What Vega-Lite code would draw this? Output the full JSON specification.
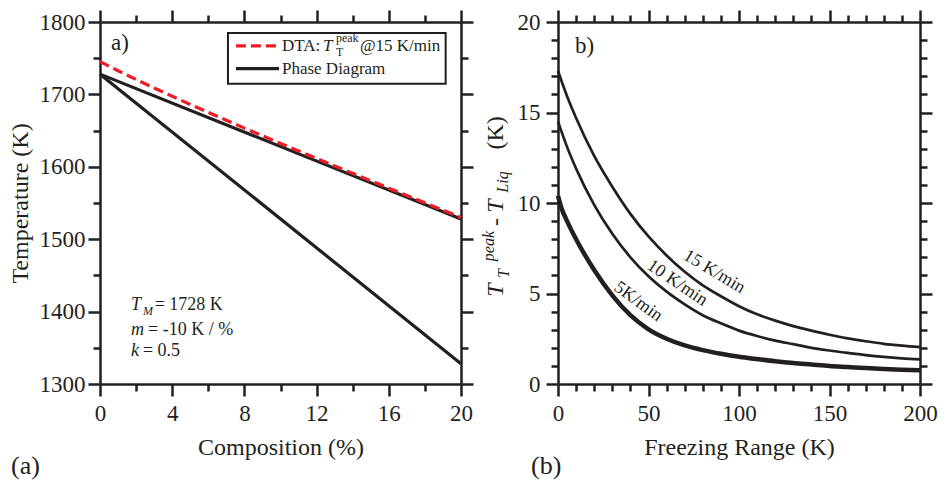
{
  "$schema": "https://vega.github.io/schema/vega-lite/v6.json",
  "background": "white",
  "padding": {"left": 8, "top": 8, "right": 5, "bottom": 5},
  "bounds": "flush",
  "spacing": 97,
  "config": {
    "view": {"stroke": null},
    "font": "Liberation Serif",
    "axis": {
      "grid": false,
      "domainColor": "#231f20",
      "domainWidth": 2.5,
      "tickColor": "#231f20",
      "tickWidth": 2.5,
      "labelFont": "Liberation Serif",
      "labelFontSize": 23,
      "labelColor": "#231f20",
      "labelFlush": false,
      "labelOverlap": false,
      "format": "d",
      "titleFont": "Liberation Serif",
      "titleFontSize": 24,
      "titleFontWeight": "normal",
      "titleColor": "#231f20"
    },
    "text": {"font": "Liberation Serif", "color": "#231f20"}
  },
  "datasets": {
    "note": [{}],
    "liquidus": [
      {"composition": 0, "temperature": 1728},
      {"composition": 20, "temperature": 1528}
    ],
    "solidus": [
      {"composition": 0, "temperature": 1728},
      {"composition": 20, "temperature": 1328}
    ],
    "dta15": [
      {"composition": 0, "temperature": 1745.3},
      {"composition": 0.5, "temperature": 1738.9},
      {"composition": 1, "temperature": 1732.7},
      {"composition": 2, "temperature": 1720.6},
      {"composition": 3, "temperature": 1708.9},
      {"composition": 4, "temperature": 1697.4},
      {"composition": 5, "temperature": 1686.15},
      {"composition": 6, "temperature": 1675.1},
      {"composition": 7, "temperature": 1664.2},
      {"composition": 8, "temperature": 1653.45},
      {"composition": 9, "temperature": 1642.85},
      {"composition": 10, "temperature": 1632.3},
      {"composition": 11, "temperature": 1621.85},
      {"composition": 12, "temperature": 1611.5},
      {"composition": 13, "temperature": 1601.2},
      {"composition": 14, "temperature": 1590.95},
      {"composition": 15, "temperature": 1580.72},
      {"composition": 16, "temperature": 1570.52},
      {"composition": 17, "temperature": 1560.36},
      {"composition": 18, "temperature": 1550.22},
      {"composition": 19, "temperature": 1540.12},
      {"composition": 20, "temperature": 1530.04}
    ],
    "rate15": [
      {"range": 0, "dT": 17.3}, {"range": 5, "dT": 15.9}, {"range": 10, "dT": 14.7},
      {"range": 20, "dT": 12.6}, {"range": 30, "dT": 10.9}, {"range": 40, "dT": 9.4},
      {"range": 50, "dT": 8.15}, {"range": 60, "dT": 7.1}, {"range": 70, "dT": 6.2},
      {"range": 80, "dT": 5.45}, {"range": 90, "dT": 4.85}, {"range": 100, "dT": 4.3},
      {"range": 110, "dT": 3.85}, {"range": 120, "dT": 3.5}, {"range": 130, "dT": 3.2},
      {"range": 140, "dT": 2.95}, {"range": 150, "dT": 2.72}, {"range": 160, "dT": 2.52},
      {"range": 170, "dT": 2.36}, {"range": 180, "dT": 2.22}, {"range": 190, "dT": 2.12},
      {"range": 200, "dT": 2.04}
    ],
    "rate10": [
      {"range": 0, "dT": 14.5}, {"range": 5, "dT": 13.1}, {"range": 10, "dT": 11.9},
      {"range": 20, "dT": 9.9}, {"range": 30, "dT": 8.3}, {"range": 40, "dT": 7.0},
      {"range": 50, "dT": 5.95}, {"range": 60, "dT": 5.1}, {"range": 70, "dT": 4.4},
      {"range": 80, "dT": 3.8}, {"range": 90, "dT": 3.35}, {"range": 100, "dT": 2.95},
      {"range": 110, "dT": 2.65}, {"range": 120, "dT": 2.4}, {"range": 130, "dT": 2.2},
      {"range": 140, "dT": 2.0}, {"range": 150, "dT": 1.85}, {"range": 160, "dT": 1.72},
      {"range": 170, "dT": 1.6}, {"range": 180, "dT": 1.5}, {"range": 190, "dT": 1.42},
      {"range": 200, "dT": 1.36}
    ],
    "rate5": [
      {"range": 0, "dT": 10.4}, {"range": 2, "dT": 9.7}, {"range": 5, "dT": 9.0},
      {"range": 10, "dT": 8.0}, {"range": 20, "dT": 6.3}, {"range": 30, "dT": 4.9},
      {"range": 40, "dT": 3.8}, {"range": 50, "dT": 3.02}, {"range": 60, "dT": 2.5},
      {"range": 70, "dT": 2.13}, {"range": 80, "dT": 1.87}, {"range": 90, "dT": 1.67},
      {"range": 100, "dT": 1.51}, {"range": 110, "dT": 1.38}, {"range": 120, "dT": 1.26},
      {"range": 130, "dT": 1.16}, {"range": 140, "dT": 1.08}, {"range": 150, "dT": 1.0},
      {"range": 160, "dT": 0.94}, {"range": 170, "dT": 0.88}, {"range": 180, "dT": 0.83},
      {"range": 190, "dT": 0.79}, {"range": 200, "dT": 0.76}
    ]
  },
  "hconcat": [
    {
      "width": 361,
      "height": 362,
      "resolve": {"axis": {"x": "independent", "y": "independent"}},
      "layer": [
        {
          "data": {"name": "liquidus"},
          "mark": {"type": "line", "color": "#231f20", "strokeWidth": 3.2},
          "encoding": {
            "x": {"field": "composition", "type": "quantitative",
                  "scale": {"domain": [0, 20], "nice": false, "zero": false},
                  "axis": {"orient": "bottom", "values": [0, 4, 8, 12, 16, 20], "tickSize": 12,
                           "labelPadding": 6, "title": "Composition (%)", "titlePadding": 10}},
            "y": {"field": "temperature", "type": "quantitative",
                  "scale": {"domain": [1300, 1800], "nice": false, "zero": false},
                  "axis": {"orient": "left", "values": [1300, 1400, 1500, 1600, 1700, 1800], "tickSize": 12,
                           "labelPadding": 3, "title": "Temperature (K)", "titlePadding": 7}}
          }
        },
        {
          "data": {"name": "solidus"},
          "mark": {"type": "line", "color": "#231f20", "strokeWidth": 3.2},
          "encoding": {
            "x": {"field": "composition", "type": "quantitative",
                  "scale": {"domain": [0, 20], "nice": false, "zero": false},
                  "axis": {"orient": "bottom", "values": [2, 6, 10, 14, 18], "tickSize": 7,
                           "labels": false, "domain": false, "title": null}},
            "y": {"field": "temperature", "type": "quantitative",
                  "scale": {"domain": [1300, 1800], "nice": false, "zero": false},
                  "axis": {"orient": "left", "values": [1350, 1450, 1550, 1650, 1750], "tickSize": 7,
                           "labels": false, "domain": false, "title": null}}
          }
        },
        {
          "data": {"name": "dta15"},
          "mark": {"type": "line", "color": "#ed1c24", "strokeWidth": 3.2, "strokeDash": [10, 5], "interpolate": "monotone"},
          "encoding": {
            "x": {"field": "composition", "type": "quantitative",
                  "axis": {"orient": "top", "values": [0, 4, 8, 12, 16, 20], "tickSize": 12,
                           "labels": false, "title": null}},
            "y": {"field": "temperature", "type": "quantitative",
                  "axis": {"orient": "right", "values": [1300, 1400, 1500, 1600, 1700, 1800], "tickSize": 12,
                           "labels": false, "title": null}}
          }
        },
        {
          "data": {"name": "note"},
          "mark": {"type": "rect", "fill": "white", "stroke": "#231f20", "strokeWidth": 2},
          "encoding": {
            "x": {"datum": 7.09, "type": "quantitative",
                  "axis": {"orient": "top", "values": [2, 6, 10, 14, 18], "tickSize": 7,
                           "labels": false, "domain": false, "title": null}},
            "x2": {"datum": 19.15},
            "y": {"datum": 1784.8, "type": "quantitative",
                  "axis": {"orient": "right", "values": [1350, 1450, 1550, 1650, 1750], "tickSize": 7,
                           "labels": false, "domain": false, "title": null}},
            "y2": {"datum": 1714.8}
          }
        },
        {
          "data": {"name": "note"},
          "mark": {"type": "rule", "color": "#ed1c24", "strokeWidth": 3.2, "strokeDash": [10, 5]},
          "encoding": {
            "x": {"datum": 7.53, "type": "quantitative", "axis": null},
            "x2": {"datum": 9.92},
            "y": {"datum": 1767.1, "type": "quantitative", "axis": null}
          }
        },
        {
          "data": {"name": "note"},
          "mark": {"type": "rule", "color": "#231f20", "strokeWidth": 3.2},
          "encoding": {
            "x": {"datum": 7.53, "type": "quantitative", "axis": null},
            "x2": {"datum": 9.92},
            "y": {"datum": 1735.5, "type": "quantitative", "axis": null}
          }
        },
        {
          "data": {"name": "note"},
          "mark": {"type": "text", "text": "DTA:", "fontSize": 17, "align": "left", "baseline": "middle"},
          "encoding": {
            "x": {"datum": 10.08, "type": "quantitative", "axis": null},
            "y": {"datum": 1766.4, "type": "quantitative", "axis": null}
          }
        },
        {
          "data": {"name": "note"},
          "mark": {"type": "text", "text": "T", "fontSize": 17, "fontStyle": "italic", "align": "left", "baseline": "middle"},
          "encoding": {
            "x": {"datum": 12.35, "type": "quantitative", "axis": null},
            "y": {"datum": 1766.4, "type": "quantitative", "axis": null}
          }
        },
        {
          "data": {"name": "note"},
          "mark": {"type": "text", "text": "T", "fontSize": 12, "align": "left", "baseline": "middle"},
          "encoding": {
            "x": {"datum": 13.07, "type": "quantitative", "axis": null},
            "y": {"datum": 1758, "type": "quantitative", "axis": null}
          }
        },
        {
          "data": {"name": "note"},
          "mark": {"type": "text", "text": "peak", "fontSize": 12, "align": "left", "baseline": "middle"},
          "encoding": {
            "x": {"datum": 13.07, "type": "quantitative", "axis": null},
            "y": {"datum": 1777.4, "type": "quantitative", "axis": null}
          }
        },
        {
          "data": {"name": "note"},
          "mark": {"type": "text", "text": "@15 K/min", "fontSize": 17, "align": "left", "baseline": "middle"},
          "encoding": {
            "x": {"datum": 14.4, "type": "quantitative", "axis": null},
            "y": {"datum": 1766.4, "type": "quantitative", "axis": null}
          }
        },
        {
          "data": {"name": "note"},
          "mark": {"type": "text", "text": "Phase Diagram", "fontSize": 17, "align": "left", "baseline": "middle"},
          "encoding": {
            "x": {"datum": 10.08, "type": "quantitative", "axis": null},
            "y": {"datum": 1735.2, "type": "quantitative", "axis": null}
          }
        },
        {
          "data": {"name": "note"},
          "mark": {"type": "text", "text": "a)", "fontSize": 23, "align": "left", "baseline": "middle"},
          "encoding": {
            "x": {"datum": 0.61, "type": "quantitative", "axis": null},
            "y": {"datum": 1770.5, "type": "quantitative", "axis": null}
          }
        },
        {
          "data": {"name": "note"},
          "mark": {"type": "text", "text": "T", "fontSize": 18, "fontStyle": "italic", "align": "left", "baseline": "middle"},
          "encoding": {
            "x": {"datum": 1.72, "type": "quantitative", "axis": null},
            "y": {"datum": 1409.3, "type": "quantitative", "axis": null}
          }
        },
        {
          "data": {"name": "note"},
          "mark": {"type": "text", "text": "M", "fontSize": 12, "fontStyle": "italic", "align": "left", "baseline": "middle"},
          "encoding": {
            "x": {"datum": 2.38, "type": "quantitative", "axis": null},
            "y": {"datum": 1401, "type": "quantitative", "axis": null}
          }
        },
        {
          "data": {"name": "note"},
          "mark": {"type": "text", "text": "= 1728 K", "fontSize": 18, "align": "left", "baseline": "middle"},
          "encoding": {
            "x": {"datum": 3.03, "type": "quantitative", "axis": null},
            "y": {"datum": 1409.3, "type": "quantitative", "axis": null}
          }
        },
        {
          "data": {"name": "note"},
          "mark": {"type": "text", "text": "m", "fontSize": 18, "fontStyle": "italic", "align": "left", "baseline": "middle"},
          "encoding": {
            "x": {"datum": 1.72, "type": "quantitative", "axis": null},
            "y": {"datum": 1374.7, "type": "quantitative", "axis": null}
          }
        },
        {
          "data": {"name": "note"},
          "mark": {"type": "text", "text": "= -10 K / %", "fontSize": 18, "align": "left", "baseline": "middle"},
          "encoding": {
            "x": {"datum": 2.66, "type": "quantitative", "axis": null},
            "y": {"datum": 1374.7, "type": "quantitative", "axis": null}
          }
        },
        {
          "data": {"name": "note"},
          "mark": {"type": "text", "text": "k", "fontSize": 18, "fontStyle": "italic", "align": "left", "baseline": "middle"},
          "encoding": {
            "x": {"datum": 1.72, "type": "quantitative", "axis": null},
            "y": {"datum": 1345.7, "type": "quantitative", "axis": null}
          }
        },
        {
          "data": {"name": "note"},
          "mark": {"type": "text", "text": "= 0.5", "fontSize": 18, "align": "left", "baseline": "middle"},
          "encoding": {
            "x": {"datum": 2.38, "type": "quantitative", "axis": null},
            "y": {"datum": 1345.7, "type": "quantitative", "axis": null}
          }
        },
        {
          "data": {"name": "note"},
          "mark": {"type": "text", "text": "(a)", "fontSize": 26, "align": "left", "baseline": "middle"},
          "encoding": {
            "x": {"datum": -4.93, "type": "quantitative", "axis": null},
            "y": {"datum": 1186.5, "type": "quantitative", "axis": null}
          }
        }
      ]
    },
    {
      "width": 362,
      "height": 362,
      "resolve": {"axis": {"x": "independent", "y": "independent"}},
      "layer": [
        {
          "data": {"name": "rate15"},
          "mark": {"type": "line", "color": "#231f20", "strokeWidth": 2.7, "interpolate": "monotone"},
          "encoding": {
            "x": {"field": "range", "type": "quantitative",
                  "scale": {"domain": [0, 200], "nice": false, "zero": false},
                  "axis": {"orient": "bottom", "values": [0, 50, 100, 150, 200], "tickSize": 12,
                           "labelPadding": 6, "title": "Freezing Range (K)", "titlePadding": 10}},
            "y": {"field": "dT", "type": "quantitative",
                  "scale": {"domain": [0, 20], "nice": false, "zero": false},
                  "axis": {"orient": "left", "values": [0, 5, 10, 15, 20], "tickSize": 12,
                           "labelPadding": 6, "title": null}}
          }
        },
        {
          "data": {"name": "rate10"},
          "mark": {"type": "line", "color": "#231f20", "strokeWidth": 2.7, "interpolate": "monotone"},
          "encoding": {
            "x": {"field": "range", "type": "quantitative",
                  "scale": {"domain": [0, 200], "nice": false, "zero": false},
                  "axis": {"orient": "bottom", "values": [10, 20, 30, 40, 60, 70, 80, 90, 110, 120, 130, 140, 160, 170, 180, 190],
                           "tickSize": 7, "labels": false, "domain": false, "title": null}},
            "y": {"field": "dT", "type": "quantitative",
                  "scale": {"domain": [0, 20], "nice": false, "zero": false},
                  "axis": {"orient": "left", "values": [1, 2, 3, 4, 6, 7, 8, 9, 11, 12, 13, 14, 16, 17, 18, 19],
                           "tickSize": 7, "labels": false, "domain": false, "title": null}}
          }
        },
        {
          "data": {"name": "rate5"},
          "mark": {"type": "line", "color": "#231f20", "strokeWidth": 4.5, "interpolate": "monotone"},
          "encoding": {
            "x": {"field": "range", "type": "quantitative",
                  "axis": {"orient": "top", "values": [0, 50, 100, 150, 200], "tickSize": 12,
                           "labels": false, "title": null}},
            "y": {"field": "dT", "type": "quantitative",
                  "axis": {"orient": "right", "values": [0, 5, 10, 15, 20], "tickSize": 12,
                           "labels": false, "title": null}}
          }
        },
        {
          "data": {"name": "note"},
          "mark": {"type": "text", "text": "b)", "fontSize": 23, "align": "left", "baseline": "middle"},
          "encoding": {
            "x": {"datum": 9.4, "type": "quantitative",
                  "axis": {"orient": "top", "values": [10, 20, 30, 40, 60, 70, 80, 90, 110, 120, 130, 140, 160, 170, 180, 190],
                           "tickSize": 7, "labels": false, "domain": false, "title": null}},
            "y": {"datum": 18.67, "type": "quantitative",
                  "axis": {"orient": "right", "values": [1, 2, 3, 4, 6, 7, 8, 9, 11, 12, 13, 14, 16, 17, 18, 19],
                           "tickSize": 7, "labels": false, "domain": false, "title": null}}
          }
        },
        {
          "data": {"name": "note"},
          "mark": {"type": "text", "text": "15 K/min", "fontSize": 18, "angle": 31, "align": "center", "baseline": "middle"},
          "encoding": {
            "x": {"datum": 86.3, "type": "quantitative", "axis": null},
            "y": {"datum": 6.2, "type": "quantitative", "axis": null}
          }
        },
        {
          "data": {"name": "note"},
          "mark": {"type": "text", "text": "10 K/min", "fontSize": 18, "angle": 34, "align": "center", "baseline": "middle"},
          "encoding": {
            "x": {"datum": 65.9, "type": "quantitative", "axis": null},
            "y": {"datum": 5.58, "type": "quantitative", "axis": null}
          }
        },
        {
          "data": {"name": "note"},
          "mark": {"type": "text", "text": "5K/min", "fontSize": 18, "angle": 36, "align": "center", "baseline": "middle"},
          "encoding": {
            "x": {"datum": 44.3, "type": "quantitative", "axis": null},
            "y": {"datum": 4.55, "type": "quantitative", "axis": null}
          }
        },
        {
          "data": {"name": "note"},
          "mark": {"type": "text", "text": "T", "fontSize": 24, "fontStyle": "italic", "angle": 270, "align": "center", "baseline": "middle"},
          "encoding": {
            "x": {"datum": -34.3, "type": "quantitative", "axis": null},
            "y": {"datum": 5.19, "type": "quantitative", "axis": null}
          }
        },
        {
          "data": {"name": "note"},
          "mark": {"type": "text", "text": "T", "fontSize": 16, "fontStyle": "italic", "angle": 270, "align": "center", "baseline": "middle"},
          "encoding": {
            "x": {"datum": -30.0, "type": "quantitative", "axis": null},
            "y": {"datum": 6.1, "type": "quantitative", "axis": null}
          }
        },
        {
          "data": {"name": "note"},
          "mark": {"type": "text", "text": "peak", "fontSize": 16, "fontStyle": "italic", "angle": 270, "align": "center", "baseline": "middle"},
          "encoding": {
            "x": {"datum": -38.0, "type": "quantitative", "axis": null},
            "y": {"datum": 7.62, "type": "quantitative", "axis": null}
          }
        },
        {
          "data": {"name": "note"},
          "mark": {"type": "text", "text": "-", "fontSize": 24, "angle": 270, "align": "center", "baseline": "middle"},
          "encoding": {
            "x": {"datum": -34.3, "type": "quantitative", "axis": null},
            "y": {"datum": 8.95, "type": "quantitative", "axis": null}
          }
        },
        {
          "data": {"name": "note"},
          "mark": {"type": "text", "text": "T", "fontSize": 24, "fontStyle": "italic", "angle": 270, "align": "center", "baseline": "middle"},
          "encoding": {
            "x": {"datum": -34.3, "type": "quantitative", "axis": null},
            "y": {"datum": 9.83, "type": "quantitative", "axis": null}
          }
        },
        {
          "data": {"name": "note"},
          "mark": {"type": "text", "text": "Liq", "fontSize": 16, "fontStyle": "italic", "angle": 270, "align": "center", "baseline": "middle"},
          "encoding": {
            "x": {"datum": -30.5, "type": "quantitative", "axis": null},
            "y": {"datum": 11.16, "type": "quantitative", "axis": null}
          }
        },
        {
          "data": {"name": "note"},
          "mark": {"type": "text", "text": "(K)", "fontSize": 24, "angle": 270, "align": "center", "baseline": "middle"},
          "encoding": {
            "x": {"datum": -34.3, "type": "quantitative", "axis": null},
            "y": {"datum": 13.87, "type": "quantitative", "axis": null}
          }
        },
        {
          "data": {"name": "note"},
          "mark": {"type": "text", "text": "(b)", "fontSize": 26, "align": "left", "baseline": "middle"},
          "encoding": {
            "x": {"datum": -14.9, "type": "quantitative", "axis": null},
            "y": {"datum": -4.53, "type": "quantitative", "axis": null}
          }
        }
      ]
    }
  ]
}
